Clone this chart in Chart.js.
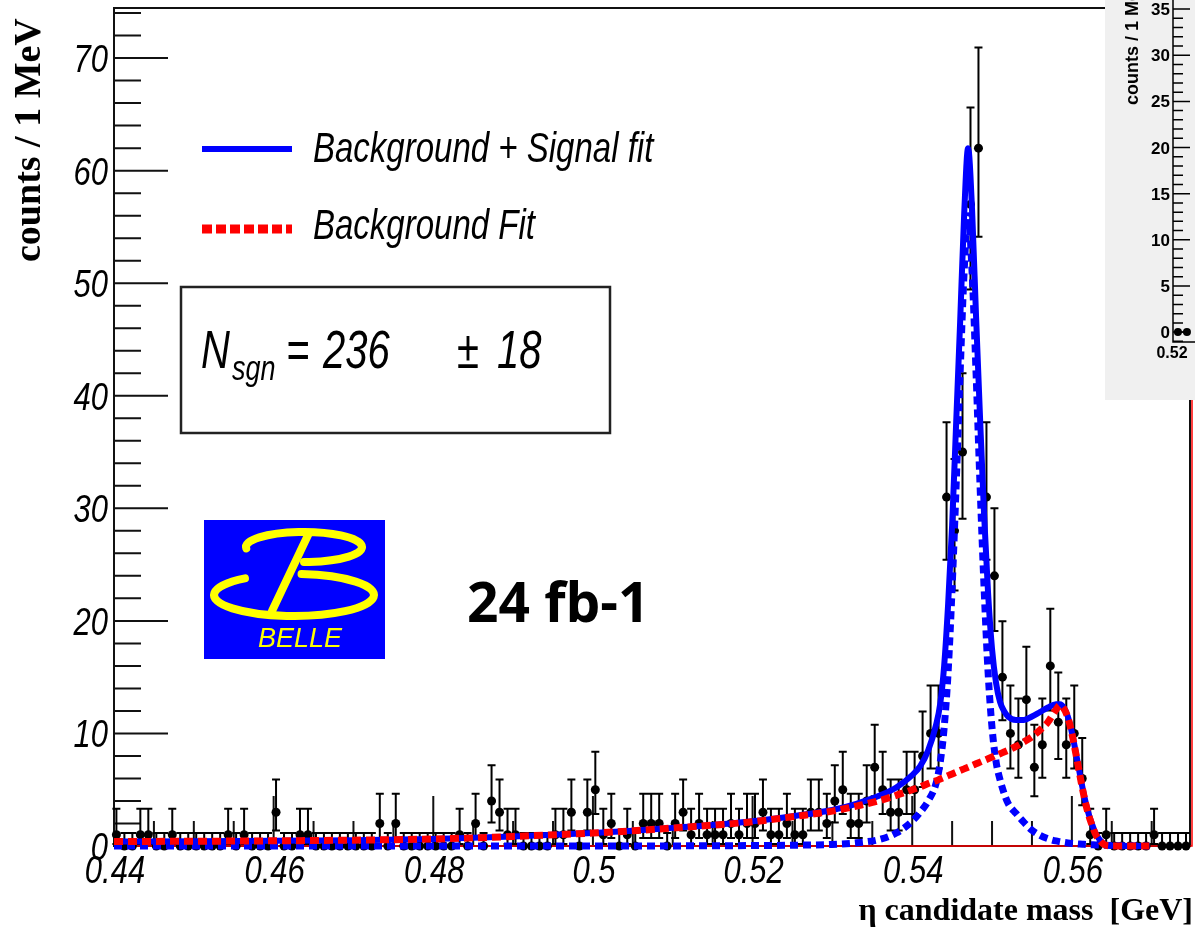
<!DOCTYPE html>
<html>
<head>
<meta charset="utf-8">
<script src="https://cdn.jsdelivr.net/npm/chart.js@4.4.1/dist/chart.umd.min.js"></script>
<style>
  html, body { margin: 0; padding: 0; background: #fff; }
  #wrap { position: relative; width: 1195px; height: 929px; overflow: hidden; }
  #main { position: absolute; left: 0; top: 0; }
  #inset { position: absolute; left: 1105px; top: 0; background: #f0f0f0; }
</style>
</head>
<body>
<div id="wrap">
  <canvas id="main" width="1195" height="929"></canvas>
  <canvas id="inset" width="90" height="400"></canvas>
</div>
<script>
// eta candidate mass, 1 MeV bins
const binLow = 0.4398;
const binWidth = 0.001;
const counts = [
  1, 0, 0, 1, 1, 0, 0, 1, 0, 0,
  0, 0, 0, 0, 1, 0, 1, 0, 0, 0,
  3, 0, 0, 1, 1, 0, 0, 0, 0, 0,
  0, 0, 0, 2, 0, 2, 0, 0, 0, 0,
  0, 0, 0, 1, 0, 2, 0, 4, 3, 1,
  1, 0, 0, 0, 0, 1, 1, 3, 0, 3,
  5, 1, 2, 0, 1, 0, 2, 2, 2, 0,
  2, 3, 1, 2, 1, 1, 1, 2, 1, 2,
  2, 3, 1, 1, 2, 1, 1, 3, 3, 2,
  4, 5, 2, 2, 4, 7, 5, 3, 3, 5,
  5, 8, 10, 10, 31, 28, 35, 57, 62, 31,
  24, 15, 10, 9, 13, 7, 9, 16, 11, 9,
  10, 6, 1, 0, 1, 0, 0, 0, 0, 0,
  1, 0, 0, 0, 0
];

// fitted curves, sampled along the mass axis
const fitMass = [
  0.440, 0.450, 0.460, 0.470, 0.480, 0.490, 0.500, 0.505, 0.510, 0.515,
  0.520, 0.525, 0.530, 0.533, 0.536, 0.538, 0.540, 0.541, 0.542, 0.543,
  0.5435, 0.544, 0.5445, 0.545, 0.5455, 0.546, 0.5465, 0.547, 0.5475, 0.548,
  0.5485, 0.549, 0.5495, 0.550, 0.5505, 0.551, 0.5515, 0.552, 0.553, 0.554,
  0.555, 0.556, 0.557, 0.558, 0.5585, 0.559, 0.5595, 0.560, 0.5605, 0.561,
  0.5615, 0.562, 0.5625, 0.563, 0.5635, 0.564, 0.565, 0.566, 0.5697
];
const bkgFit = [
  0.40, 0.42, 0.46, 0.52, 0.62, 0.85, 1.15, 1.35, 1.60, 1.85,
  2.15, 2.60, 3.10, 3.55, 4.05, 4.50, 5.00, 5.25, 5.55, 5.80,
  5.95, 6.10, 6.25, 6.40, 6.55, 6.70, 6.85, 7.00, 7.15, 7.30,
  7.45, 7.60, 7.75, 7.90, 8.05, 8.20, 8.35, 8.50, 8.85, 9.25,
  9.70, 10.3, 11.0, 12.1, 12.5, 12.2, 11.4, 10.0, 8.2, 6.3,
  4.5, 3.0, 1.9, 1.0, 0.5, 0.15, 0, 0, 0
];
const signalFit = [
  0, 0, 0, 0, 0, 0, 0, 0.01, 0.01, 0.02,
  0.04, 0.07, 0.14, 0.28, 0.6, 1.15, 2.2, 3.0, 4.0, 5.6,
  7.4, 10.5, 15.5, 23, 32, 42, 51, 56, 51, 42,
  32, 23, 15.5, 10.5, 7.5, 5.9, 4.7, 3.8, 2.9, 2.1,
  1.4, 0.95, 0.65, 0.45, 0.38, 0.32, 0.27, 0.23, 0.2, 0.17,
  0.15, 0.13, 0.11, 0.09, 0.08, 0.07, 0.05, 0.03, 0
];
const totalFit = [
  0.40, 0.42, 0.46, 0.52, 0.62, 0.85, 1.15, 1.36, 1.61, 1.87,
  2.20, 2.65, 3.20, 3.75, 4.50, 5.20, 6.3, 7.1, 8.5, 10.8,
  12.6, 16.0, 21.5, 28.5, 37.5, 46.5, 56, 62, 56.5, 47,
  38, 29.5, 22.5, 17.5, 14.5, 12.8, 12.0, 11.5, 11.2, 11.2,
  11.5, 11.9, 12.3, 12.6, 12.6, 12.3, 11.5, 10.1, 8.3, 6.4,
  4.6, 3.1, 2.0, 1.1, 0.55, 0.2, 0.05, 0, 0
];

const yTicks = [0, 10, 20, 30, 40, 50, 60, 70];
const xTicks = [0.44, 0.46, 0.48, 0.50, 0.52, 0.54, 0.56];
const xTickLabels = ['0.44', '0.46', '0.48', '0.5', '0.52', '0.54', '0.56'];

// piece of the neighbouring plot in the corner
const insetMass = [0.5205, 0.5215];
const insetCounts = [0, 0];
const insetTicks = [0, 5, 10, 15, 20, 25, 30, 35];

// 68% Poisson intervals for small counts
const poissonLo = [0, 0.173, 0.708, 1.367, 2.086, 2.840, 3.620, 4.419, 5.232, 6.057, 6.891, 7.734, 8.585, 9.441, 10.30, 11.17, 12.04];
const poissonHi = [1.148, 3.300, 4.638, 5.918, 7.163, 8.382, 9.584, 10.77, 11.95, 13.11, 14.27, 15.42, 16.56, 17.70, 18.83, 19.96, 21.08];
function poissonInterval(n) {
  if (n < poissonLo.length) return [poissonLo[n], poissonHi[n]];
  return [n - Math.sqrt(n), n + 1 + Math.sqrt(n + 1)];
}

const SANS = '"Liberation Sans", Arial, sans-serif';
const SERIF = '"Liberation Serif", "Times New Roman", serif';

function drawText(ctx, text, x, y, font, opt = {}) {
  ctx.save();
  ctx.translate(x, y);
  if (opt.rotate) ctx.rotate(opt.rotate);
  ctx.scale(1, opt.sy || 1);
  ctx.font = font;
  ctx.fillStyle = opt.color || '#000';
  ctx.textAlign = opt.align || 'left';
  ctx.textBaseline = 'alphabetic';
  ctx.fillText(text, 0, 0);
  ctx.restore();
}

const errorBars = {
  id: 'errorBars',
  beforeDatasetDraw(chart, args) {
    if (args.index !== 0) return;
    const ctx = chart.ctx;
    const y = chart.scales.y;
    const ds = chart.data.datasets[0];
    ctx.save();
    ctx.strokeStyle = '#000';
    ctx.lineWidth = 2;
    ctx.beginPath();
    args.meta.data.forEach((pt, i) => {
      const n = ds.data[i].y;
      const [lo, hi] = poissonInterval(n);
      const top = y.getPixelForValue(hi);
      const bot = y.getPixelForValue(lo);
      ctx.moveTo(pt.x, top);
      ctx.lineTo(pt.x, bot);
      ctx.moveTo(pt.x - 4, top);
      ctx.lineTo(pt.x + 4, top);
      if (n > 0) {
        ctx.moveTo(pt.x - 4, bot);
        ctx.lineTo(pt.x + 4, bot);
      }
    });
    ctx.stroke();
    ctx.restore();
  }
};

const frameAxes = {
  id: 'frameAxes',
  beforeDatasetsDraw(chart) {
    const { ctx, chartArea: a, scales: { x, y } } = chart;
    ctx.save();
    ctx.strokeStyle = '#111';
    ctx.lineWidth = 2;
    ctx.strokeRect(a.left, a.top, a.right - a.left, a.bottom - a.top);
    ctx.beginPath();
    for (let v = 0; v <= 74; v += 2) {
      const py = y.getPixelForValue(v);
      const len = v % 10 === 0 ? 54 : 27;
      ctx.moveTo(a.left, py);
      ctx.lineTo(a.left + len, py);
    }
    for (let k = 0; k <= 26; k++) {
      const px = x.getPixelForValue(0.44 + k * 0.005);
      const len = k % 4 === 0 ? 50 : 25;
      ctx.moveTo(px, a.bottom);
      ctx.lineTo(px, a.bottom - len);
    }
    ctx.stroke();
    // red outline along the baseline and the right edge
    ctx.strokeStyle = '#ff0000';
    ctx.lineWidth = 1.5;
    ctx.beginPath();
    ctx.moveTo(a.left, a.bottom);
    ctx.lineTo(a.right + 2, a.bottom);
    ctx.lineTo(a.right + 2, a.top);
    ctx.stroke();
    ctx.restore();
  },
  afterDraw(chart) {
    const { ctx, chartArea: a, scales: { x, y } } = chart;
    const tickFont = 'italic 31px ' + SANS;
    yTicks.forEach(v => {
      drawText(ctx, String(v), 108, y.getPixelForValue(v) + 14, tickFont, { sy: 1.25, align: 'right' });
    });
    xTicks.forEach((v, i) => {
      drawText(ctx, xTickLabels[i], x.getPixelForValue(v) + 1, 883, tickFont, { sy: 1.25, align: 'center' });
    });
    drawText(ctx, 'counts / 1 MeV', 40, 262, 'bold 38px ' + SERIF, { rotate: -Math.PI / 2 });
    drawText(ctx, '\u03b7 candidate mass  [GeV]', 1193, 920, 'bold 32px ' + SERIF, { align: 'right' });

    // legend
    ctx.save();
    ctx.lineCap = 'butt';
    ctx.strokeStyle = '#0000ff';
    ctx.lineWidth = 6;
    ctx.beginPath();
    ctx.moveTo(202, 149);
    ctx.lineTo(292, 149);
    ctx.stroke();
    ctx.strokeStyle = '#ff0000';
    ctx.lineWidth = 9;
    ctx.setLineDash([10, 4]);
    ctx.beginPath();
    ctx.moveTo(202, 229);
    ctx.lineTo(292, 229);
    ctx.stroke();
    ctx.restore();
    drawText(ctx, 'Background + Signal fit', 313, 162, 'italic 33px ' + SANS, { sy: 1.27 });
    drawText(ctx, 'Background Fit', 313, 239, 'italic 33px ' + SANS, { sy: 1.27 });

    // signal yield box
    ctx.save();
    ctx.strokeStyle = '#222';
    ctx.lineWidth = 2.5;
    ctx.strokeRect(181, 287, 429, 146);
    ctx.restore();
    const big = 'italic 40px ' + SANS;
    drawText(ctx, 'N', 201, 368, big, { sy: 1.33 });
    drawText(ctx, 'sgn', 232, 380, 'italic 27px ' + SANS, { sy: 1.3 });
    drawText(ctx, '=', 286, 368, big, { sy: 1.33 });
    drawText(ctx, '236', 323, 368, big, { sy: 1.33 });
    drawText(ctx, '\u00b1', 457, 368, big, { sy: 1.33 });
    drawText(ctx, '18', 497, 368, big, { sy: 1.33 });

    // experiment logo
    ctx.save();
    ctx.fillStyle = '#0000ff';
    ctx.fillRect(204, 520, 181, 139);
    ctx.strokeStyle = '#ffff00';
    ctx.lineWidth = 8;
    ctx.lineCap = 'round';
    ctx.beginPath();
    ctx.ellipse(304, 547, 58, 15, 0, 0.97 * Math.PI, 2.5 * Math.PI);
    ctx.stroke();
    ctx.beginPath();
    ctx.ellipse(294, 595, 80, 21, 0, 1.53 * Math.PI, 3.29 * Math.PI);
    ctx.stroke();
    ctx.beginPath();
    ctx.moveTo(309, 533);
    ctx.lineTo(272, 611);
    ctx.stroke();
    ctx.restore();
    drawText(ctx, 'BELLE', 300, 647, 'italic 27px ' + SANS, { color: '#ffff00', align: 'center' });

    drawText(ctx, '24 fb-1', 467, 622, 'bold 55px "Open Sans", ' + SANS);
  }
};

const curveClip = { left: 0, right: 0, top: 0, bottom: 6 };

new Chart(document.getElementById('main'), {
  type: 'scatter',
  data: {
    datasets: [
      {
        label: 'Data',
        data: counts.map((n, i) => ({ x: binLow + (i + 0.5) * binWidth, y: n })),
        pointRadius: 4.5,
        pointBorderWidth: 0,
        pointBackgroundColor: '#000',
        showLine: false,
        order: 10,
        clip: { left: 8, right: 8, top: 0, bottom: 8 }
      },
      {
        label: 'Background + Signal fit',
        data: fitMass.map((m, i) => ({ x: m, y: totalFit[i] })),
        showLine: true,
        borderColor: '#0000ff',
        borderWidth: 6,
        pointRadius: 0,
        cubicInterpolationMode: 'monotone',
        order: 3,
        clip: curveClip
      },
      {
        label: 'Signal',
        data: fitMass.map((m, i) => ({ x: m, y: signalFit[i] })),
        showLine: true,
        borderColor: '#0000ff',
        borderWidth: 7,
        borderDash: [8, 5],
        pointRadius: 0,
        cubicInterpolationMode: 'monotone',
        order: 2,
        clip: curveClip
      },
      {
        label: 'Background Fit',
        data: fitMass.map((m, i) => ({ x: m, y: bkgFit[i] })),
        showLine: true,
        borderColor: '#ff0000',
        borderWidth: 7,
        borderDash: [9, 5],
        pointRadius: 0,
        cubicInterpolationMode: 'monotone',
        order: 1,
        clip: curveClip
      }
    ]
  },
  options: {
    responsive: false,
    animation: false,
    devicePixelRatio: 1,
    layout: { padding: { left: 114, right: 5, top: 8, bottom: 83 } },
    plugins: { legend: { display: false }, tooltip: { enabled: false } },
    scales: {
      x: { type: 'linear', min: 0.44, max: 0.5748, display: false },
      y: { min: 0, max: 74.45, display: false }
    }
  },
  plugins: [errorBars, frameAxes]
});

const insetAxes = {
  id: 'insetAxes',
  afterDraw(chart) {
    const { ctx, chartArea: a, scales: { y } } = chart;
    ctx.save();
    ctx.strokeStyle = '#000';
    ctx.lineWidth = 1.5;
    ctx.beginPath();
    ctx.moveTo(a.left, 0);
    ctx.lineTo(a.left, a.bottom);
    ctx.lineTo(chart.width, a.bottom);
    for (let v = -1; v <= 35; v++) {
      const py = y.getPixelForValue(v);
      const len = v % 5 === 0 ? 17 : 10;
      ctx.moveTo(a.left, py);
      ctx.lineTo(a.left + len, py);
    }
    ctx.stroke();
    ctx.restore();
    insetTicks.forEach(v => {
      drawText(ctx, String(v), a.left - 3, y.getPixelForValue(v) + 6, 'bold 17px ' + SANS, { align: 'right' });
    });
    drawText(ctx, '0.52', 67, 358, 'bold 16px ' + SANS, { align: 'center' });
    drawText(ctx, 'counts / 1 MeV', 33, 105, 'bold 18px ' + SANS, { rotate: -Math.PI / 2 });
  }
};

new Chart(document.getElementById('inset'), {
  type: 'scatter',
  data: {
    datasets: [{
      data: insetMass.map((m, i) => ({ x: m, y: insetCounts[i] })),
      showLine: true,
      borderColor: '#000',
      borderWidth: 1.5,
      pointRadius: 4,
      pointBorderWidth: 0,
      pointBackgroundColor: '#000',
      clip: false
    }]
  },
  options: {
    responsive: false,
    animation: false,
    devicePixelRatio: 1,
    layout: { padding: { left: 68, right: 0, top: 0, bottom: 58 } },
    plugins: { legend: { display: false }, tooltip: { enabled: false } },
    scales: {
      x: { type: 'linear', min: 0.51995, max: 0.52195, display: false },
      y: { min: -1.07, max: 35.55, display: false }
    }
  },
  plugins: [insetAxes]
});
</script>
</body>
</html>
